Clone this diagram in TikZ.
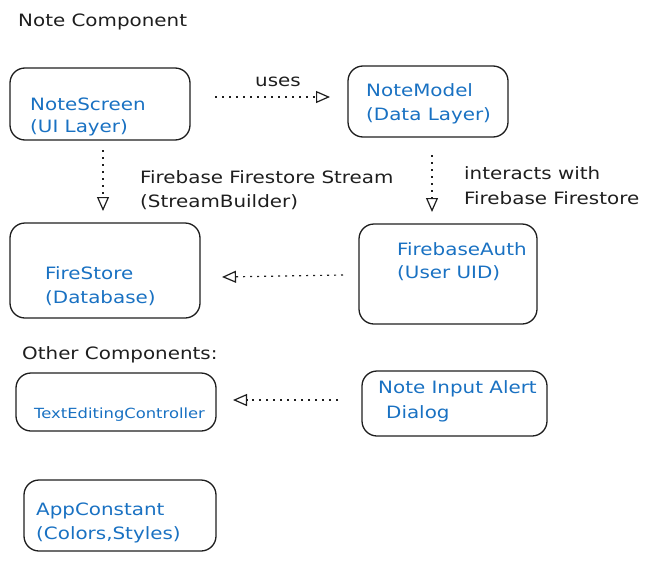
\documentclass[tikz,border=0pt]{standalone}
\usepackage{fontspec}
\setmainfont{DejaVu Sans}
\newfontfamily\vfont[FakeStretch=1.17]{DejaVu Sans}
\usetikzlibrary{arrows.meta}
\definecolor{inkblue}{HTML}{1971C2}
\definecolor{ink}{HTML}{1E1E1E}
\begin{document}
\begin{tikzpicture}[x=1pt,y=-1pt,
  box/.style={draw=ink,line width=1.3pt,rounded corners=15pt,rectangle,inner sep=0pt},
  btxt/.style={text=inkblue,anchor=west,inner sep=0pt,font=\vfont\fontsize{17}{20}\selectfont},
  ktxt/.style={text=ink,anchor=west,inner sep=0pt,font=\vfont\fontsize{17}{20}\selectfont},
  conn/.style={draw=ink,line width=1.2pt,dash pattern=on 2pt off 5pt,-{Triangle[open,length=14pt,width=12pt,line width=1.2pt]}}]
\useasboundingbox (0,0) rectangle (652,562);
% boxes
\node[box,minimum width=180pt,minimum height=72pt] (ns) at (100,104) {};
\node[box,minimum width=160pt,minimum height=71pt] (nm) at (428,101.5) {};
\node[box,minimum width=190pt,minimum height=95pt] (fs) at (105,270.5) {};
\node[box,minimum width=178pt,minimum height=100pt] (fa) at (448,274) {};
\node[box,minimum width=200pt,minimum height=58pt] (tec) at (116,402) {};
\node[box,minimum width=185pt,minimum height=65pt] (dlg) at (454.5,403.5) {};
\node[box,minimum width=192pt,minimum height=71pt] (ac) at (120,515.5) {};
% texts
\node[ktxt] (t1) at (18,22) {Note Component};
\node[btxt] (ns1) at (30,104) {NoteScreen};
\node[btxt] (ns2) at (30,128) {(UI Layer)};
\node[ktxt] (uses) at (255,82) {uses};
\node[btxt] (nm1) at (366,90) {NoteModel};
\node[btxt] (nm2) at (366,116) {(Data Layer)};
\node[ktxt] (l1) at (140,177) {Firebase Firestore Stream};
\node[ktxt] (l2) at (140,202) {(StreamBuilder)};
\node[ktxt] (l3) at (464,173) {interacts with};
\node[ktxt] (l4) at (464,198) {Firebase Firestore};
\node[btxt] (fs1) at (45,273) {FireStore};
\node[btxt] (fs2) at (45,298) {(Database)};
\node[btxt] (fa1) at (397,249) {FirebaseAuth};
\node[btxt] (fa2) at (397,273) {(User UID)};
\node[ktxt] (oc) at (22,355) {Other Components:};
\node[btxt,font=\vfont\fontsize{14}{16}\selectfont] (tec1) at (34,415) {TextEditingController};
\node[btxt] (dl1) at (378,389) {Note Input Alert};
\node[btxt] (dl2) at (386,414) {Dialog};
\node[btxt] (ac1) at (36,511) {AppConstant};
\node[btxt] (ac2) at (36,535) {(Colors,Styles)};
% connector ends
\coordinate (a1s) at (215,97);
\coordinate (a1e) at (330,97);
\coordinate (a2s) at (103,150);
\coordinate (a2e) at (103,211);
\coordinate (a3s) at (432,155);
\coordinate (a3e) at (432,212);
\coordinate (a4s) at (343,275);
\coordinate (a4e) at (222,277);
\coordinate (a5s) at (338,400);
\coordinate (a5e) at (233,400);
\draw[conn] (a1s) -- (a1e);
\draw[conn] (a2s) -- (a2e);
\draw[conn] (a3s) -- (a3e);
\draw[conn] (a4s) -- (a4e);
\draw[conn] (a5s) -- (a5e);
\end{tikzpicture}
\end{document}
